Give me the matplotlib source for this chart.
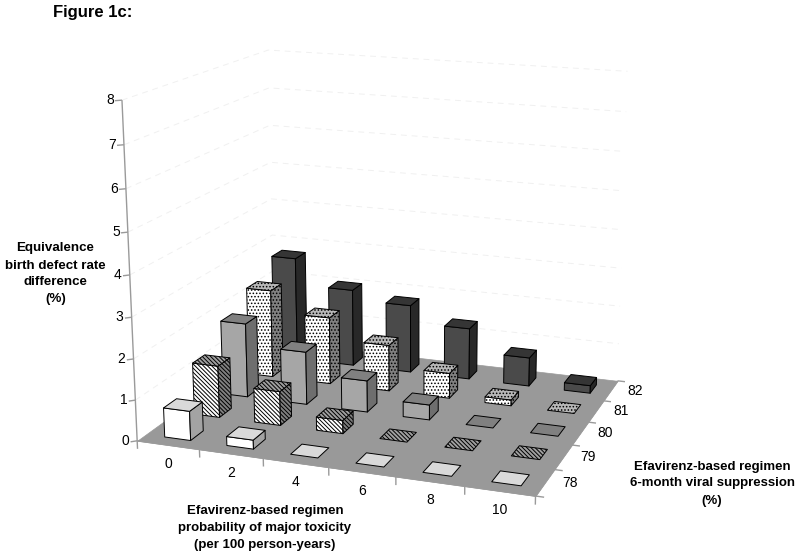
import numpy as np
import matplotlib
matplotlib.use("Agg")
import matplotlib.pyplot as plt
from mpl_toolkits.mplot3d.art3d import Poly3DCollection, Line3DCollection

plt.rcParams['font.family'] = ['Liberation Sans', 'DejaVu Sans']
plt.rcParams['hatch.linewidth'] = 0.7

# ---- data ----
toxicity = [0, 2, 4, 6, 8, 10]
suppression = [78, 79, 80, 81, 82]
z_ticks = [0, 1, 2, 3, 4, 5, 6, 7, 8]
rate_78 = [0.72, 0.22, 0, 0, 0, 0]
rate_79 = [1.3, 0.85, 0.33, 0, 0, 0]
rate_80 = [1.9, 1.35, 0.8, 0.38, 0, 0]
rate_81 = [2.3, 1.75, 1.2, 0.65, 0.15, 0]
rate_82 = [2.75, 2.05, 1.8, 1.35, 0.75, 0.2]
rates = [rate_78, rate_79, rate_80, rate_81, rate_82]

# ---- styles: front, top, side, hatch ----
styles = [
    ('#ffffff', '#d9d9d9', '#a3a3a3', None),
    ('#ffffff', '#a0a0a0', '#808080', '\\' * 8),
    ('#a6a6a6', '#808080', '#6e6e6e', None),
    ('#ffffff', '#b8b8b8', '#808080', '.' * 5),
    ('#4a4a4a', '#353535', '#282828', None),
]
FLOOR = '#999999'
AXIS = '#9a9a9a'
GRID = '#f0f0f0'
BAR_W = 0.42

W, H = 800, 558

# ---- camera calibration: box positions -> pixels ----
world = np.array([
    (0, 0, 0), (1, 0, 0), (4, 0, 0), (5, 0, 0), (6, 0, 0),
    (6, 1, 0), (6, 2, 0), (6, 3, 0), (6, 4, 0), (6, 5, 0),
    (0, 5, 0), (0, 0, 8), (0, 5, 8), (6, 5, 8), (0, 5, 4)], float)
pix = np.array([
    (137, 440), (199, 449), (395, 477), (465, 487), (537, 497),
    (553, 469), (572, 445), (588, 422), (603, 400), (618, 380),
    (276, 343), (123, 100), (267, 50), (628, 72), (271, 198)], float)


def fit_camera(w, p):
    A, b = [], []
    for (x, y, z), (u, v) in zip(w, p):
        A.append([x, y, z, 1, 0, 0, 0, 0, -u * x, -u * y, -u * z])
        b.append(u)
        A.append([0, 0, 0, 0, x, y, z, 1, -v * x, -v * y, -v * z])
        b.append(v)
    s = np.linalg.lstsq(np.array(A), np.array(b), rcond=None)[0]
    return np.append(s, 1).reshape(3, 4)


CAM = fit_camera(world, pix)


def to_px(x, y, z):
    u, v, w_ = CAM @ np.array([x, y, z, 1.0])
    return u / w_, v / w_


fig = plt.figure(figsize=(W / 100, H / 100), dpi=100)
fig.patch.set_facecolor('white')
ax = fig.add_subplot(projection='3d', computed_zorder=False)
ax.set_position([0, (H - W) / 2 / H, 1, W / H])
ax.set_axis_off()
ax.patch.set_alpha(0)


def get_proj():
    (x0, x1), (y0, y1) = ax.viewLim.intervalx, ax.viewLim.intervaly
    sx = (x1 - x0) / W
    sy = (y1 - y0) / W
    off = (W + H) / 2
    r1 = sx * CAM[0] + x0 * CAM[2]
    r2 = -sy * CAM[1] + (y0 + sy * off) * CAM[2]
    return np.array([r1, r2, [0, 0, 0, 1], CAM[2]])


ax.get_proj = get_proj


def face(verts, fc, hatch=None, z=1.0, ec='black', lw=0.7):
    col = Poly3DCollection([verts], facecolors=fc, edgecolors=ec,
                           linewidths=lw, hatch=hatch)
    col.set_zorder(z)
    ax.add_collection3d(col, autolim=False)


def line(pts, color, z, lw=1.0, ls='solid'):
    col = Line3DCollection([pts], colors=color, linewidths=lw, linestyles=ls)
    col.set_zorder(z)
    ax.add_collection3d(col, autolim=False)


# gridlines on the hidden walls
for zv in z_ticks[1:]:
    line([(0, 0, zv), (0, 5, zv), (6, 5, zv)], GRID, 0.2, lw=0.7, ls=(0, (6, 5)))

# floor
face([(0, 0, 0), (6, 0, 0), (6, 5, 0), (0, 5, 0)], FLOOR, z=0.5, ec=FLOOR, lw=0.5)

# axis lines and ticks
line([(0, 0, 0), (0, 0, 8)], AXIS, 0.6)
line([(0, 0, 0), (6, 0, 0)], AXIS, 0.6)
line([(6, 0, 0), (6, 5, 0)], AXIS, 0.6)
for zv in z_ticks:
    line([(0, 0, zv), (-0.07, -0.07, zv)], AXIS, 0.6)
for i in range(7):
    line([(i, 0, 0), (i, 0, -0.2)], AXIS, 0.6)
for j in range(6):
    line([(6, j, 0), (6.12, j, 0)], AXIS, 0.6)

# bars, back to front
order = 1.0
for j in range(len(suppression) - 1, -1, -1):
    front, top, side, hatch = styles[j]
    for i in range(len(toxicity)):
        h = rates[j][i]
        x0 = i + 0.5 - BAR_W / 2
        x1 = x0 + BAR_W
        y0 = j + 0.5 - BAR_W / 2
        y1 = y0 + BAR_W
        if h > 0:
            face([(x0, y0, 0), (x1, y0, 0), (x1, y0, h), (x0, y0, h)], front, hatch, order)
            face([(x1, y0, 0), (x1, y1, 0), (x1, y1, h), (x1, y0, h)], side, hatch, order + 0.1)
        face([(x0, y0, h), (x1, y0, h), (x1, y1, h), (x0, y1, h)], top, hatch, order + 0.2)
        order += 1


def label(px, py, s, **kw):
    fig.text(px / W, 1 - py / H, s, va='center', color='black', **kw)


for zv in z_ticks:
    u, v = to_px(0, 0, zv)
    label(u - 12, v, str(zv), ha='center', fontsize=10)
for i, t in enumerate(toxicity):
    u, v = to_px(i + 0.5, 0, 0)
    label(u, v + 19, str(t), ha='center', fontsize=10)
for j, t in enumerate(suppression):
    u, v = to_px(6, j + 0.5, 0)
    label(u + 25, v, str(t), ha='center', fontsize=10)

label(53, 13, 'Figure 1c:', ha='left', fontsize=12, fontweight='bold')
for py, s in zip([248, 266, 282, 299],
                 ['Equivalence', 'birth defect rate', 'difference', '(%)']):
    label(55.5, py, s, ha='center', fontsize=9.6, fontweight='bold')
for py, s in zip([511, 528, 545],
                 ['Efavirenz-based regimen', 'probability of major toxicity',
                  '(per 100 person-years)']):
    label(265, py, s, ha='center', fontsize=9.5, fontweight='bold')
for py, s in zip([467, 483, 501],
                 ['Efavirenz-based regimen', '6-month viral suppression', '(%)']):
    label(712, py, s, ha='center', fontsize=9.5, fontweight='bold')

fig.savefig('out.png', dpi=100)
